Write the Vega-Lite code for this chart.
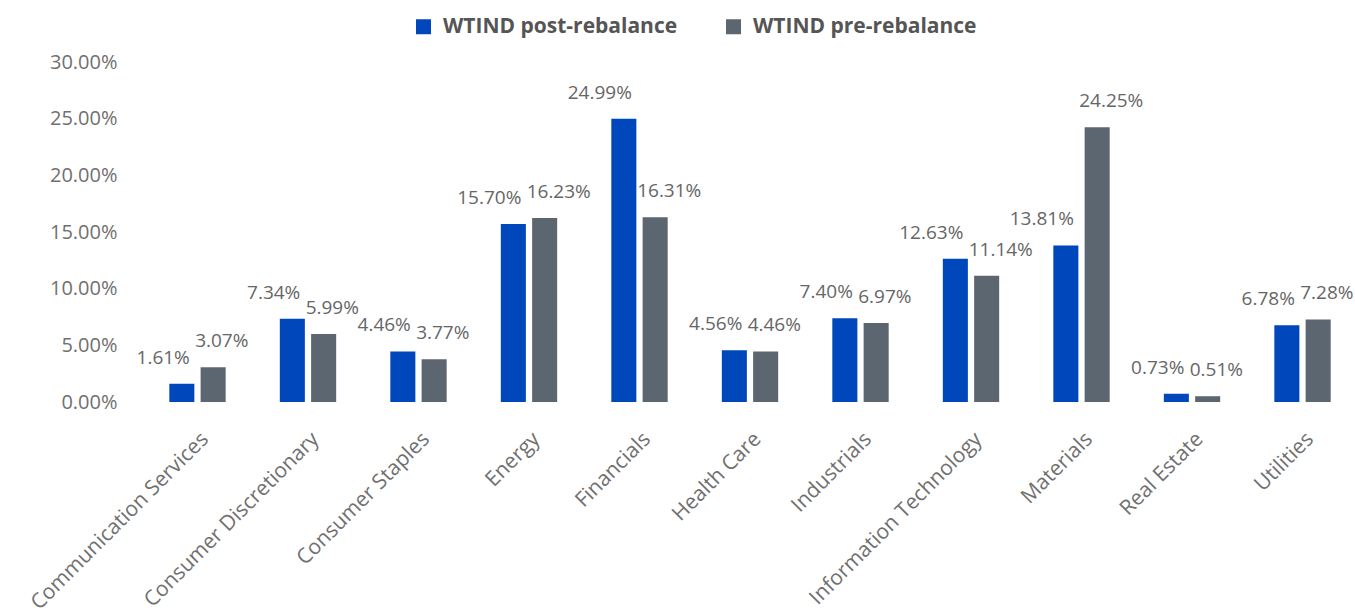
{
  "$schema": "https://vega.github.io/schema/vega-lite/v6.json",
  "width": 1210,
  "height": 340,
  "autosize": "none",
  "padding": {"left": 145, "top": 62, "right": 0, "bottom": 213},
  "background": "white",
  "config": {"view": {"stroke": null}, "font": "Open Sans"},
  "data": {
    "values": [
      {"sector": "Communication Services", "series": "WTIND post-rebalance", "weight": 0.0161},
      {"sector": "Communication Services", "series": "WTIND pre-rebalance", "weight": 0.0307},
      {"sector": "Consumer Discretionary", "series": "WTIND post-rebalance", "weight": 0.0734},
      {"sector": "Consumer Discretionary", "series": "WTIND pre-rebalance", "weight": 0.0599},
      {"sector": "Consumer Staples", "series": "WTIND post-rebalance", "weight": 0.0446},
      {"sector": "Consumer Staples", "series": "WTIND pre-rebalance", "weight": 0.0377},
      {"sector": "Energy", "series": "WTIND post-rebalance", "weight": 0.1570},
      {"sector": "Energy", "series": "WTIND pre-rebalance", "weight": 0.1623},
      {"sector": "Financials", "series": "WTIND post-rebalance", "weight": 0.2499},
      {"sector": "Financials", "series": "WTIND pre-rebalance", "weight": 0.1631},
      {"sector": "Health Care", "series": "WTIND post-rebalance", "weight": 0.0456},
      {"sector": "Health Care", "series": "WTIND pre-rebalance", "weight": 0.0446},
      {"sector": "Industrials", "series": "WTIND post-rebalance", "weight": 0.0740},
      {"sector": "Industrials", "series": "WTIND pre-rebalance", "weight": 0.0697},
      {"sector": "Information Technology", "series": "WTIND post-rebalance", "weight": 0.1263},
      {"sector": "Information Technology", "series": "WTIND pre-rebalance", "weight": 0.1114},
      {"sector": "Materials", "series": "WTIND post-rebalance", "weight": 0.1381},
      {"sector": "Materials", "series": "WTIND pre-rebalance", "weight": 0.2425},
      {"sector": "Real Estate", "series": "WTIND post-rebalance", "weight": 0.0073},
      {"sector": "Real Estate", "series": "WTIND pre-rebalance", "weight": 0.0051},
      {"sector": "Utilities", "series": "WTIND post-rebalance", "weight": 0.0678},
      {"sector": "Utilities", "series": "WTIND pre-rebalance", "weight": 0.0728}
    ]
  },
  "encoding": {
    "x": {
      "field": "sector",
      "type": "nominal",
      "sort": null,
      "scale": {"paddingInner": 0.49, "paddingOuter": 0.22},
      "axis": {
        "title": null,
        "labelAngle": -45,
        "domain": false,
        "ticks": false,
        "labelFontSize": 21,
        "labelColor": "#707070",
        "labelPadding": 26,
        "labelLimit": 400
      }
    },
    "xOffset": {
      "field": "series",
      "type": "nominal",
      "sort": ["WTIND post-rebalance", "WTIND pre-rebalance"],
      "scale": {"paddingInner": 0.2, "paddingOuter": 0}
    },
    "y": {
      "field": "weight",
      "type": "quantitative",
      "scale": {"domain": [0, 0.3], "nice": false},
      "axis": {
        "title": null,
        "format": ".2%",
        "values": [0, 0.05, 0.1, 0.15, 0.2, 0.25, 0.3],
        "grid": false,
        "domain": false,
        "ticks": false,
        "labelFontSize": 20,
        "labelColor": "#707070",
        "labelPadding": 28
      }
    }
  },
  "layer": [
    {
      "mark": {"type": "bar"},
      "encoding": {
        "color": {
          "field": "series",
          "type": "nominal",
          "sort": ["WTIND post-rebalance", "WTIND pre-rebalance"],
          "scale": {"range": ["#0047BB", "#5C6670"]},
          "legend": {
            "title": null,
            "orient": "none",
            "direction": "horizontal",
            "legendX": 268,
            "legendY": -46,
            "symbolType": "square",
            "symbolSize": 225,
            "symbolOpacity": 1,
            "symbolStrokeWidth": 0,
            "labelFontSize": 21,
            "labelFontWeight": "bold",
            "labelColor": "#555555",
            "labelOffset": 9,
            "labelLimit": 400,
            "columnPadding": 45
          }
        }
      }
    },
    {
      "transform": [{"filter": "datum.series === 'WTIND post-rebalance'"}],
      "mark": {"type": "text", "align": "right", "baseline": "bottom", "dx": 8, "dy": -16, "fontSize": 19, "color": "#666666"},
      "encoding": {"text": {"field": "weight", "type": "quantitative", "format": ".2%"}}
    },
    {
      "transform": [{"filter": "datum.series === 'WTIND pre-rebalance'"}],
      "mark": {"type": "text", "align": "left", "baseline": "bottom", "dx": -18, "dy": -16, "fontSize": 19, "color": "#666666"},
      "encoding": {"text": {"field": "weight", "type": "quantitative", "format": ".2%"}}
    }
  ]
}
